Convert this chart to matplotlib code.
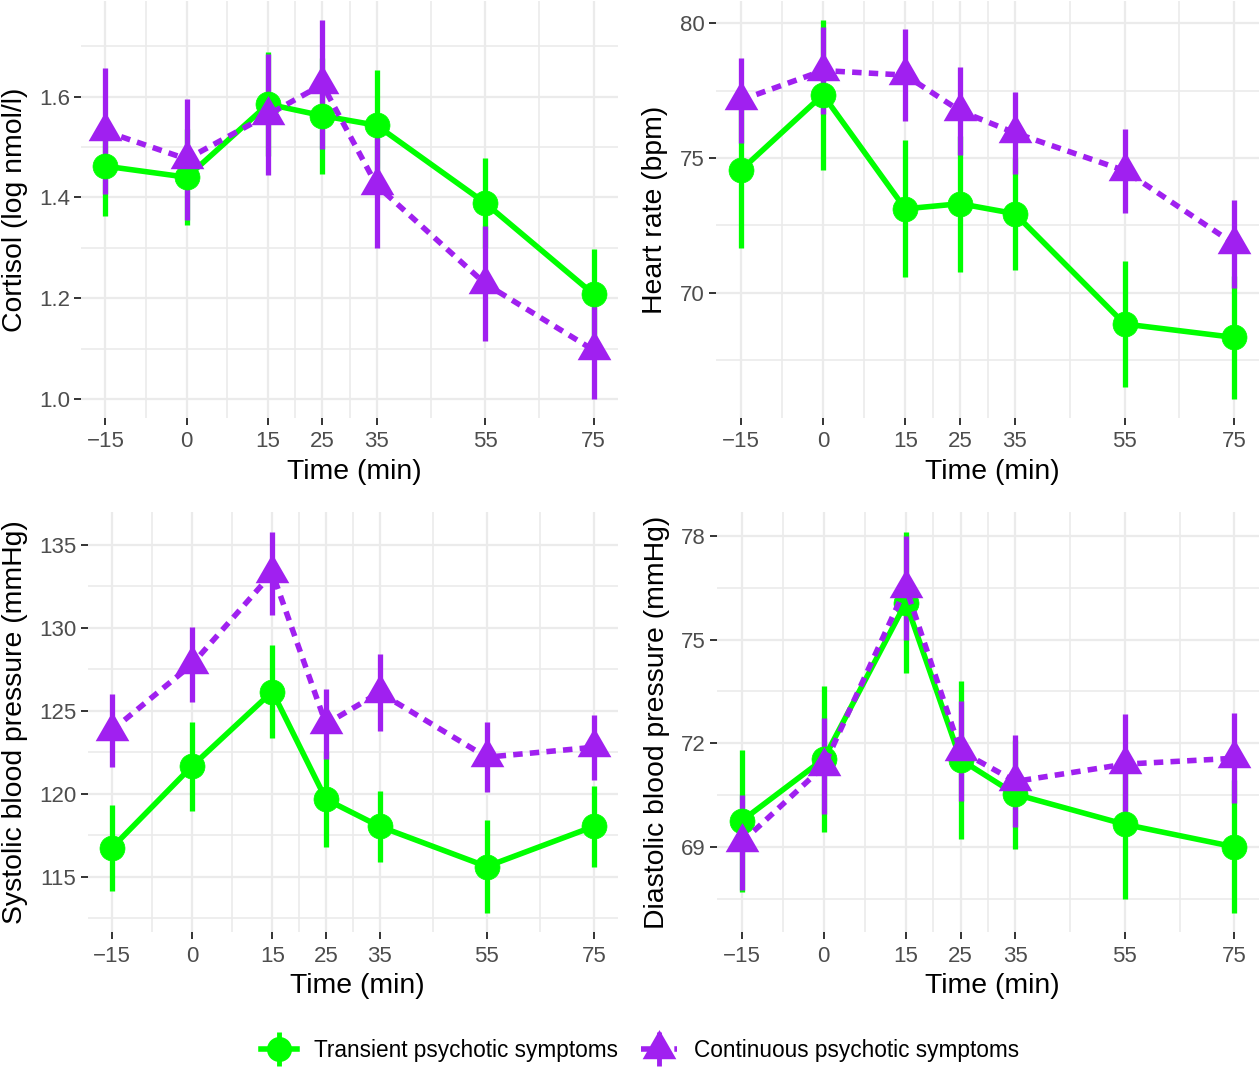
import numpy as np
import matplotlib
matplotlib.use("Agg")
import matplotlib.pyplot as plt
from matplotlib.lines import Line2D
from matplotlib.legend_handler import HandlerTuple

plt.rcParams['font.family'] = ['Liberation Sans', 'DejaVu Sans']

# ---- data ----
times = [-15, 0, 15, 25, 35, 55, 75]
time_labels = ["\u221215", "0", "15", "25", "35", "55", "75"]
time_minor = [-7.5, 7.5, 20, 30, 45, 65]

groups = ["Transient psychotic symptoms", "Continuous psychotic symptoms"]

cortisol_trans = [1.462, 1.440, 1.585, 1.562, 1.543, 1.389, 1.208]
cortisol_trans_err = [0.098, 0.095, 0.103, 0.115, 0.110, 0.090, 0.090]
cortisol_cont = [1.531, 1.476, 1.564, 1.624, 1.424, 1.229, 1.097]
cortisol_cont_err = [0.125, 0.120, 0.120, 0.128, 0.124, 0.114, 0.097]

hr_trans = [74.54, 77.35, 73.11, 73.30, 72.93, 68.83, 68.33]
hr_trans_err = [2.87, 2.78, 2.55, 2.53, 2.08, 2.33, 2.29]
hr_cont = [77.15, 78.25, 78.08, 76.75, 75.93, 74.53, 71.80]
hr_cont_err = [1.58, 1.60, 1.72, 1.65, 1.52, 1.56, 1.62]

sbp_trans = [116.72, 121.66, 126.16, 119.66, 118.03, 115.61, 118.03]
sbp_trans_err = [2.57, 2.68, 2.83, 2.88, 2.16, 2.82, 2.42]
sbp_cont = [123.8, 127.8, 133.3, 124.2, 126.1, 122.2, 122.8]
sbp_cont_err = [2.20, 2.25, 2.50, 2.10, 2.30, 2.10, 1.95]

dbp_trans = [69.76, 71.55, 76.07, 71.53, 70.53, 69.66, 69.01]
dbp_trans_err = [2.05, 2.12, 2.05, 2.28, 1.57, 2.16, 1.92]
dbp_cont = [69.14, 71.34, 76.50, 71.78, 70.90, 71.40, 71.57]
dbp_cont_err = [1.37, 1.38, 1.50, 1.45, 1.33, 1.45, 1.30]

panels = [
    ("Cortisol (log nmol/l)", cortisol_trans, cortisol_trans_err, cortisol_cont, cortisol_cont_err,
     [1.0, 1.2, 1.4, 1.6], ["1.0", "1.2", "1.4", "1.6"], [1.1, 1.3, 1.5, 1.7]),
    ("Heart rate (bpm)", hr_trans, hr_trans_err, hr_cont, hr_cont_err,
     [70, 75, 80], ["70", "75", "80"], [67.5, 72.5, 77.5]),
    ("Systolic blood pressure (mmHg)", sbp_trans, sbp_trans_err, sbp_cont, sbp_cont_err,
     [115, 120, 125, 130, 135], ["115", "120", "125", "130", "135"], [112.5, 117.5, 122.5, 127.5, 132.5]),
    ("Diastolic blood pressure (mmHg)", dbp_trans, dbp_trans_err, dbp_cont, dbp_cont_err,
     [69, 72, 75, 78], ["69", "72", "75", "78"], [67.5, 70.5, 73.5, 76.5]),
]

# ---- style ----
GREEN = "#00FF00"
PURPLE = "#A020F0"
GRID = "#EBEBEB"
W, H = 1259, 1086
tri = [(0, 1.555), (1.347, -0.778), (-1.347, -0.778)]
dash = (0, (1.7, 1.3))

# panel boxes in pixels: left, right, top, bottom
boxes = [(81, 618, 1, 418), (716, 1259, 1, 418),
         (87.5, 618, 512.5, 932.4), (717, 1259, 512.5, 932.4)]
ylabel_right = [28, 668, 28, 670]

fig = plt.figure(figsize=(W / 100, H / 100), dpi=100)
fig.patch.set_facecolor("white")

for i, (ylab, yt, et, yc, ec, yticks, ylabels, yminor) in enumerate(panels):
    l, r, t, b = boxes[i]
    ax = fig.add_axes([l / W, 1 - b / H, (r - l) / W, (b - t) / H])
    for s in ax.spines.values():
        s.set_visible(False)

    ax.errorbar(times, yt, yerr=et, fmt="none", ecolor=GREEN, elinewidth=3.8, capsize=0, zorder=2)
    ax.errorbar(times, yc, yerr=ec, fmt="none", ecolor=PURPLE, elinewidth=3.8, capsize=0, zorder=2.1)
    ax.plot(times, yt, color=GREEN, lw=4, solid_capstyle="butt", zorder=3)
    ax.plot(times, yt, ls="none", marker="o", ms=18, mfc=GREEN, mec=GREEN, mew=0.5, zorder=3.1)
    ax.plot(times, yc, color=PURPLE, lw=4, ls=dash, zorder=3.2)
    ax.plot(times, yc, ls="none", marker=tri, ms=28, mfc=PURPLE, mec=PURPLE, mew=0, zorder=3.3)

    ax.set_xlim(-19.5, 79.5)
    ax.margins(y=0.05)
    ax.set_xticks(times, labels=time_labels)
    ax.set_xticks(time_minor, minor=True)
    ax.set_yticks(yticks, labels=ylabels)
    ax.set_yticks(yminor, minor=True)
    ax.grid(which="major", color=GRID, lw=1.6)
    ax.grid(which="minor", color=GRID, lw=1.2)
    ax.set_axisbelow(True)
    ax.tick_params(which="major", length=5, width=1.4, color="#333333",
                   labelsize=16, labelcolor="#4D4D4D")
    ax.tick_params(axis="x", which="major", pad=4.5)
    ax.tick_params(axis="y", which="major", pad=3)
    ax.tick_params(which="minor", length=0)

    ax.set_xlabel("Time (min)", fontsize=20.4)
    ax.xaxis.set_label_coords(0.5 + 4.5 / (r - l), -41 / (b - t))
    ax.set_ylabel(ylab, fontsize=20.4)
    ax.yaxis.set_label_coords((ylabel_right[i] - l) / (r - l), 0.5)

# ---- legend ----
def key(color, ls, marker, ms):
    return (Line2D([], [], color=color, lw=4, ls=ls),
            Line2D([], [], ls="none", marker="|", ms=24, mew=3.5, color=color),
            Line2D([], [], ls="none", marker=marker, ms=ms, mfc=color, mec=color, mew=0))

handles = [key(GREEN, "-", "o", 18), key(PURPLE, dash, tri, 28)]
fig.legend(handles, groups, handler_map={tuple: HandlerTuple(ndivide=1)},
           loc="center", bbox_to_anchor=(640 / W, 1 - 1050 / H), ncol=2,
           frameon=False, fontsize=16.3, handlelength=1.6, handletextpad=0.75,
           columnspacing=1.0)

fig.savefig("out.png", dpi=100, facecolor="white")
